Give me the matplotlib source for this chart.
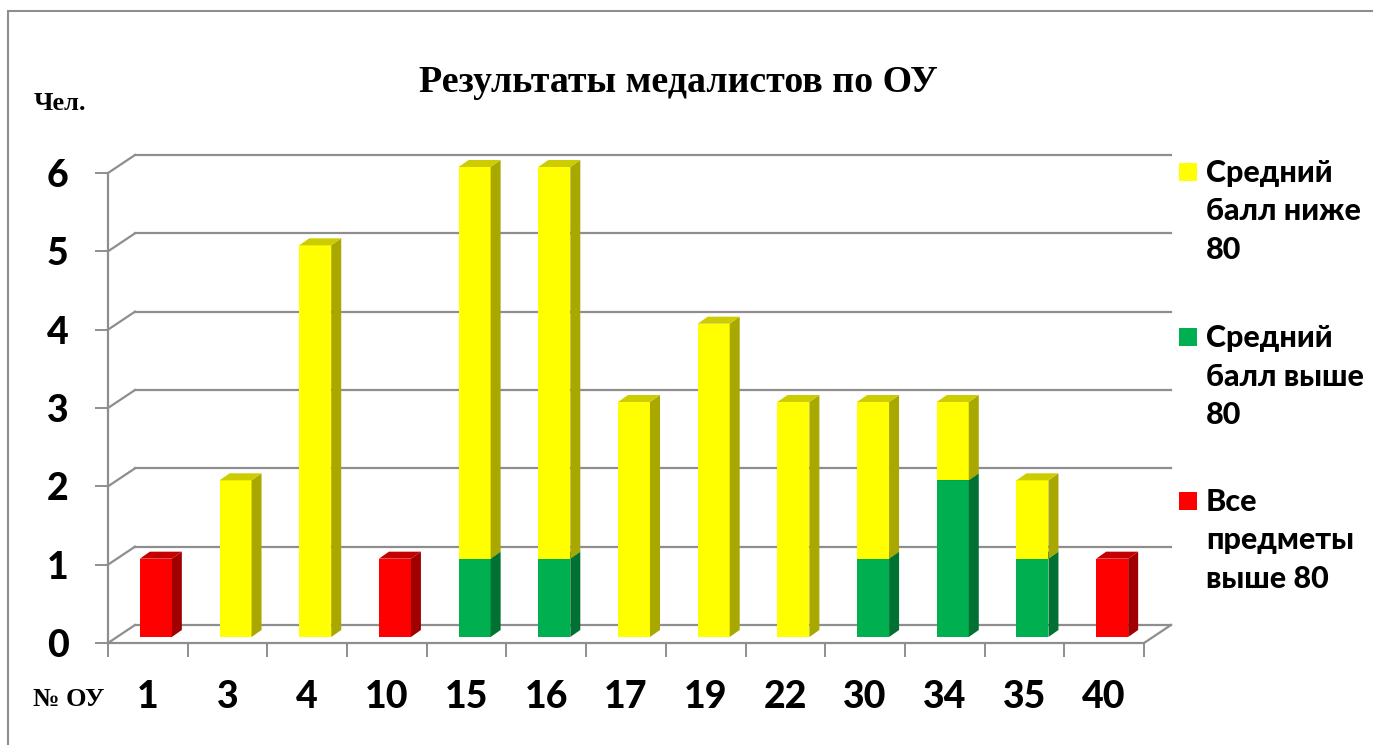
import matplotlib
matplotlib.use("Agg")
import matplotlib.pyplot as plt
from matplotlib.patches import Polygon, Rectangle

# data
schools = ["1", "3", "4", "10", "15", "16", "17", "19", "22", "30", "34", "35", "40"]
all_above = [1, 0, 0, 1, 0, 0, 0, 0, 0, 0, 0, 0, 1]
avg_above = [0, 0, 0, 0, 1, 1, 0, 0, 0, 1, 2, 1, 0]
avg_below = [0, 2, 5, 0, 5, 5, 3, 4, 3, 2, 1, 1, 0]
y_ticks = [0, 1, 2, 3, 4, 5, 6]

# stack order bottom -> top: label, values, face, side, top colours
series = [
    ("Все\nпредметы\nвыше 80", all_above, "#FF0000", "#A00000", "#C40000"),
    ("Средний\nбалл выше\n80", avg_above, "#00B050", "#007033", "#009040"),
    ("Средний\nбалл ниже\n80", avg_below, "#FFFF00", "#A8A800", "#CCCC00"),
]

W, H = 1373, 745
fig = plt.figure(figsize=(W / 100, H / 100), dpi=100)
fig.patch.set_facecolor("white")

grey = "#8E8E8E"
num_font = "Lato"
num_weight = "black"
serif = "Liberation Serif"

# outer chart frame
fig.add_artist(Rectangle((8 / W, -0.1), 2, 1.1 - 11 / H, transform=fig.transFigure,
                         fill=False, edgecolor=grey, lw=1.5))

ax = fig.add_axes([108 / W, 1 - 643 / H, 1036 / W, 470 / H])
n = len(schools)
ax.set_xlim(0, n)
ax.set_ylim(0, 6)
ax.set_facecolor("none")

kx = n / 1036.0   # data units per pixel
ky = 6 / 470.0
BX, BY = 27 * kx, 18 * ky     # back wall offset
DX, DY = 10 * kx, 7 * ky      # bar depth
base = 6 * ky
bw = 32 * kx

# back wall gridlines + left wall diagonals
for v in y_ticks:
    ax.plot([BX, n + BX], [v + BY, v + BY], color=grey, lw=1.6, clip_on=False, zorder=1)
    ax.plot([0, BX], [v, v + BY], color=grey, lw=1.6, clip_on=False, zorder=1)
ax.plot([n, n + BX], [0, BY], color=grey, lw=1.6, clip_on=False, zorder=1)

# bars
bottoms = [0] * n
z = 3
for label, vals, face, side, top in series:
    lefts = [i + 0.5 - 8 * kx for i in range(n)]
    ax.bar([l + bw / 2 for l in lefts], vals, width=bw,
           bottom=[base + b for b in bottoms], color=face, zorder=z, clip_on=False)
    for i, v in enumerate(vals):
        if v == 0:
            continue
        y0 = base + bottoms[i]
        y1 = y0 + v
        xl = lefts[i]
        xr = xl + bw
        ax.add_patch(Polygon([(xr, y0), (xr + DX, y0 + DY), (xr + DX, y1 + DY), (xr, y1)],
                             closed=True, facecolor=side, edgecolor="none", zorder=z, clip_on=False))
        ax.add_patch(Polygon([(xl, y1), (xr, y1), (xr + DX, y1 + DY), (xl + DX, y1 + DY)],
                             closed=True, facecolor=top, edgecolor="none", zorder=z, clip_on=False))
    bottoms = [b + v for b, v in zip(bottoms, vals)]
    z += 1

# axes styling
for s in ["top", "right"]:
    ax.spines[s].set_visible(False)
for s in ["left", "bottom"]:
    ax.spines[s].set_color(grey)
    ax.spines[s].set_linewidth(1.6)

ax.set_yticks(y_ticks)
ax.set_yticklabels([str(t) for t in y_ticks], fontfamily=num_font, fontweight=num_weight, fontsize=27)
ax.tick_params(axis="y", direction="out", length=9.5, width=1.4, color=grey, pad=19)

ax.set_xticks(range(n + 1))
ax.set_xticklabels([])
ax.set_xticks([i + 0.5 for i in range(n)], minor=True)
ax.set_xticklabels(schools, minor=True, fontfamily=num_font, fontweight=num_weight, fontsize=27)
ax.tick_params(axis="x", which="major", direction="out", length=10, width=1.4, color=grey)
ax.tick_params(axis="x", which="minor", length=0, pad=27)

# titles and axis captions
fig.text(678 / W, 1 - 83 / H, "Результаты медалистов по ОУ", fontfamily=serif,
         fontweight="bold", fontsize=27.3, ha="center", va="center")
fig.text(60 / W, 1 - 103 / H, "Чел.", fontfamily=serif, fontweight="bold",
         fontsize=19, ha="center", va="center")
fig.text(69 / W, 1 - 699 / H, "№ ОУ", fontfamily=serif, fontweight="bold",
         fontsize=19, ha="center", va="center")

# legend (top entry = top of stack)
leg_y = [163, 328, 492]
for (label, vals, face, side, top), y in zip(series[::-1], leg_y):
    fig.add_artist(Rectangle((1179 / W, 1 - (y + 18) / H), 18 / W, 18 / H,
                             transform=fig.transFigure, facecolor=face, edgecolor="none"))
    for j, line in enumerate(label.split("\n")):
        fig.text(1206 / W, 1 - (y + 10 + 38.5 * j) / H, line, fontfamily=num_font,
                 fontweight=num_weight, fontsize=22, ha="left", va="center")

fig.savefig("out.png", dpi=100)
